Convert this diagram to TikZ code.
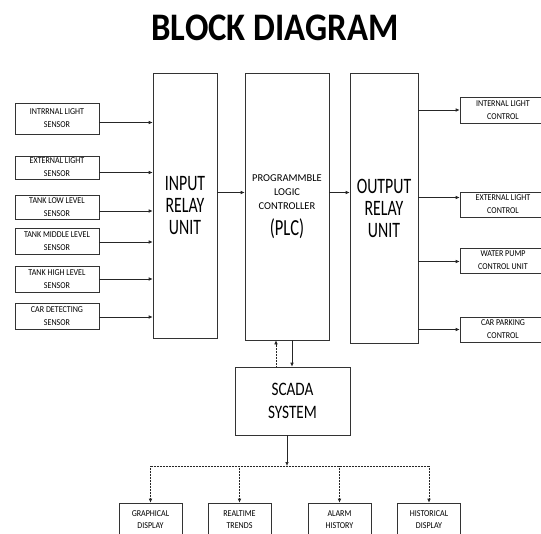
\documentclass[tikz,border=0pt]{standalone}
\usepackage{fontspec}
\setmainfont{Carlito}
\newfontfamily\narrowfont{Carlito}[FakeStretch=0.72]
\newfontfamily\scadafont{Carlito}[FakeStretch=0.8]
\newfontfamily\condfont{Carlito}[FakeStretch=0.89]
\usetikzlibrary{arrows.meta}

\begin{document}
\begin{tikzpicture}[x=1pt, y=-1pt,
    box/.style={draw=black!80, line width=0.6pt, align=center, inner sep=0pt},
    sensorbox/.style={box, font=\condfont\fontsize{9}{13}\selectfont, minimum width=84pt},
    outbox/.style={box, font=\condfont\fontsize{9}{13}\selectfont, minimum width=86pt},
    dispbox/.style={box, font=\condfont\fontsize{9}{12}\selectfont, minimum width=63pt, minimum height=34pt},
    unitbox/.style={box, font=\narrowfont\fontsize{22}{22}\selectfont},
    conn/.style={draw=black!85, line width=0.6pt, dash pattern=on 1.2pt off 0.3pt, -{Latex[length=4pt,width=3.5pt]}}]
    \clip (0,0) rectangle (541,533);
    \node[font=\condfont\fontsize{39}{39}\selectfont\bfseries] (title) at (275,27.5) {BLOCK DIAGRAM};
    % relay units and plc
    \node[unitbox, minimum width=64pt, minimum height=265pt] (input) at (185,205.5) {INPUT\\RELAY\\UNIT};
    \node[box, font=\fontsize{10.5}{14}\selectfont, minimum width=84pt, minimum height=267pt] (plc) at (287,206.5)
        {PROGRAMMBLE\\LOGIC\\CONTROLLER\\[8pt]{\narrowfont\fontsize{23}{23}\selectfont (PLC)}};
    \node[unitbox, minimum width=68pt, minimum height=270pt] (output) at (384,208) {OUTPUT\\RELAY\\UNIT};
    \node[box, font=\scadafont\fontsize{19}{23}\selectfont, minimum width=115pt, minimum height=68pt] (scada) at (292.5,401) {SCADA\\SYSTEM};
    % sensors
    \node[sensorbox, minimum height=31pt] (s1) at (57,118.5) {INTRRNAL LIGHT\\SENSOR};
    \node[sensorbox, minimum height=23pt] (s2) at (57,167.5) {EXTERNAL LIGHT\\SENSOR};
    \node[sensorbox, minimum height=24pt] (s3) at (57,207) {TANK LOW LEVEL\\SENSOR};
    \node[sensorbox, minimum height=26pt] (s4) at (57,241) {TANK MIDDLE LEVEL\\SENSOR};
    \node[sensorbox, minimum height=26pt] (s5) at (57,279) {TANK HIGH LEVEL\\SENSOR};
    \node[sensorbox, minimum height=26pt] (s6) at (57,316) {CAR DETECTING\\SENSOR};
    % outputs
    \node[outbox, minimum height=26pt] (o1) at (503,110) {INTERNAL LIGHT\\CONTROL};
    \node[outbox, minimum height=25pt] (o2) at (503,204.5) {EXTERNAL LIGHT\\CONTROL};
    \node[outbox, minimum height=25pt] (o3) at (503,260.5) {WATER PUMP\\CONTROL UNIT};
    \node[outbox, minimum height=25pt] (o4) at (503,329.5) {CAR PARKING\\CONTROL};
    % displays
    \node[dispbox] (graph) at (150.5,520) {GRAPHICAL\\DISPLAY};
    \node[dispbox] (trend) at (239.5,520) {REALTIME\\TRENDS};
    \node[dispbox] (alarm) at (339.5,520) {ALARM\\HISTORY};
    \node[dispbox] (hist) at (429,520) {HISTORICAL\\DISPLAY};
    \coordinate (bus) at (287,466);
    % connections
    \draw[conn] ([yshift=-4pt]s1.east) -- ([yshift=-4pt]s1.east -| input.west);
    \draw[conn] ([yshift=-5pt]s2.east) -- ([yshift=-5pt]s2.east -| input.west);
    \draw[conn] ([yshift=-4pt]s3.east) -- ([yshift=-4pt]s3.east -| input.west);
    \draw[conn] ([yshift=-1pt]s4.east) -- ([yshift=-1pt]s4.east -| input.west);
    \draw[conn] (s5.east) -- (s5.east -| input.west);
    \draw[conn] ([yshift=-1pt]s6.east) -- ([yshift=-1pt]s6.east -| input.west);
    \draw[conn] ([yshift=13pt]input.east) -- ([yshift=13pt]input.east -| plc.west);
    \draw[conn] ([yshift=14pt]plc.east) -- ([yshift=14pt]plc.east -| output.west);
    \draw[conn] (o1.west -| output.east) -- (o1.west);
    \draw[conn] ([yshift=7pt]o2.west -| output.east) -- ([yshift=7pt]o2.west);
    \draw[conn] ([yshift=-1pt]o3.west -| output.east) -- ([yshift=-1pt]o3.west);
    \draw[conn] (o4.west -| output.east) -- (o4.west);
    \draw[conn] ([xshift=-16.5pt]scada.north) -- ([xshift=-16.5pt]scada.north |- plc.south);
    \draw[conn] ([xshift=-0.5pt]plc.south -| scada.north) -- ([xshift=-0.5pt]scada.north);
    \draw[conn] (scada.south -| bus) -- (bus);
    \draw[draw=black!85, line width=0.6pt, dash pattern=on 1.2pt off 0.3pt] (graph.north |- bus) -- (hist.north |- bus);
    \draw[conn] (graph.north |- bus) -- (graph.north);
    \draw[conn] (trend.north |- bus) -- (trend.north);
    \draw[conn] (alarm.north |- bus) -- (alarm.north);
    \draw[conn] (hist.north |- bus) -- (hist.north);
\end{tikzpicture}
\end{document}
